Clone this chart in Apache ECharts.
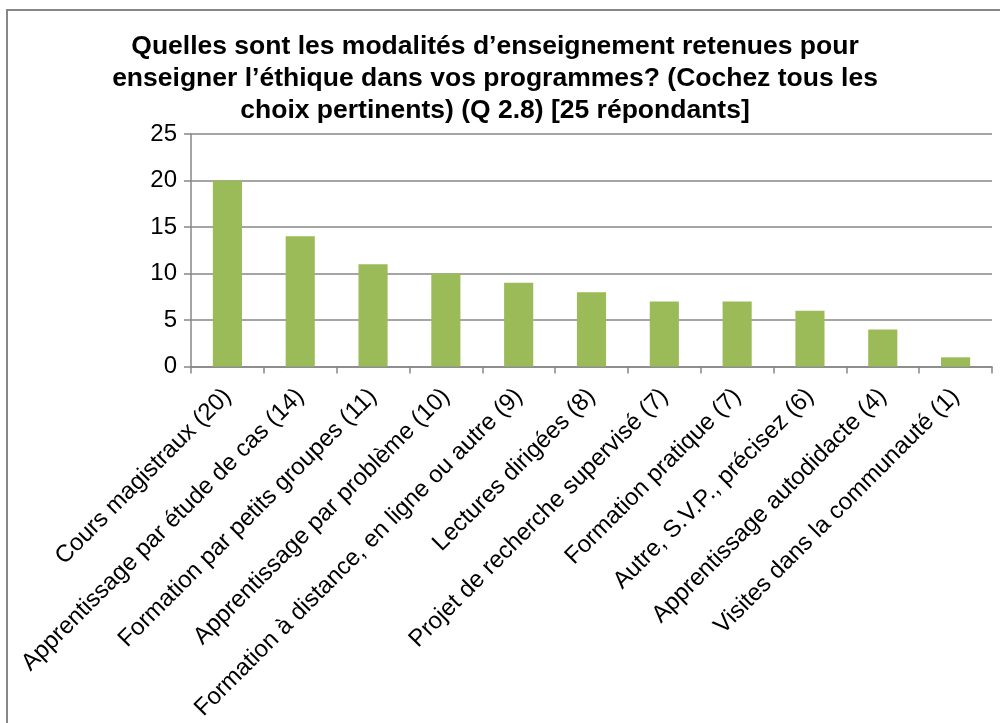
<!DOCTYPE html>
<html><head><meta charset="utf-8">
<script src="https://cdn.jsdelivr.net/npm/echarts@6/dist/echarts.min.js"></script>
<style>html,body{margin:0;padding:0;background:#fff}#c{width:1000px;height:723px}</style>
</head><body><div id="c"></div>
<script>
const titleText = "Quelles sont les modalités d’enseignement retenues pour\nenseigner l’éthique dans vos programmes? (Cochez tous les\nchoix pertinents) (Q 2.8) [25 répondants]";
const categories = ["Cours magistraux (20)","Apprentissage par étude de cas (14)","Formation par petits groupes (11)","Apprentissage par problème (10)","Formation à distance, en ligne ou autre (9)","Lectures dirigées (8)","Projet de recherche supervisé (7)","Formation pratique (7)","Autre, S.V.P., précisez (6)","Apprentissage autodidacte (4)","Visites dans la communauté (1)"];
const values = [20,14,11,10,9,8,7,7,6,4,1];
const chart = echarts.init(document.getElementById('c'), null, {renderer:'canvas'});
chart.setOption({
  animation:false,
  backgroundColor:'#fff',
  graphic:[{type:'rect',shape:{x:7,y:10,width:1010,height:730},style:{fill:'none',stroke:'#878787',lineWidth:2},silent:true}],
  title:{text:titleText,left:490,textAlign:'center',top:26,textStyle:{fontFamily:'Liberation Sans',fontWeight:'bold',fontSize:26.5,lineHeight:32,color:'#000'}},
  grid:{left:191,right:8,top:134,bottom:355,containLabel:false},
  xAxis:{type:'category',data:categories,
    axisLine:{lineStyle:{color:'#878787',width:1.5}},
    axisTick:{show:true,alignWithLabel:false,length:7,lineStyle:{color:'#878787',width:1.5}},
    axisLabel:{rotate:45,interval:0,fontFamily:'Liberation Sans',fontSize:24,color:'#000',margin:26}},
  yAxis:{type:'value',min:0,max:25,interval:5,
    axisLine:{show:true,lineStyle:{color:'#878787',width:1.5}},
    axisTick:{show:true,length:7,lineStyle:{color:'#878787',width:1.5}},
    splitLine:{lineStyle:{color:'#878787',width:1.5}},
    axisLabel:{fontFamily:'Liberation Sans',fontSize:24,color:'#000',margin:14}},
  series:[{type:'bar',data:values,barWidth:'40%',itemStyle:{color:'#9BBB59'}}]
});
</script></body></html>
